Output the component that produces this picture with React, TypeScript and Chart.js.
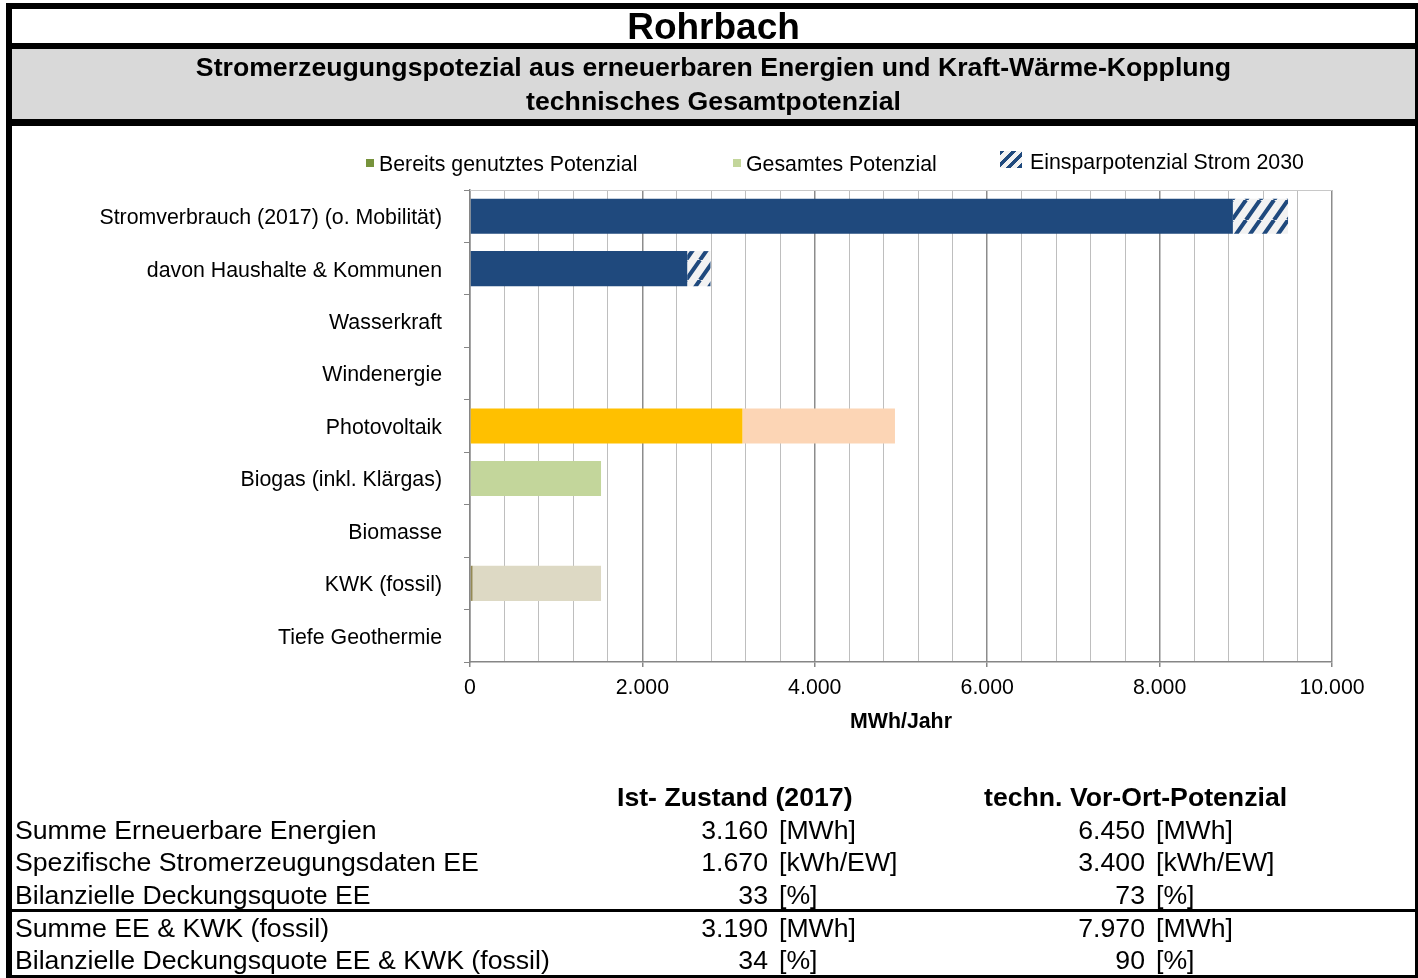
import React, { useEffect, useRef } from "react";
import { Chart, registerables } from "chart.js";

Chart.register(...registerables);

// ---------- data ----------
const categories = [
  "Stromverbrauch (2017) (o. Mobilität)",
  "davon Haushalte & Kommunen",
  "Wasserkraft",
  "Windenergie",
  "Photovoltaik",
  "Biogas (inkl. Klärgas)",
  "Biomasse",
  "KWK (fossil)",
  "Tiefe Geothermie",
];
// already used potential (for consumption rows: consumption 2030)
const genutzt = [8850, 2520, 0, 0, 3160, 0, 0, 30, 0];
// total technical potential
const gesamt = [0, 0, 0, 0, 4930, 1520, 0, 1520, 0];
// savings potential 2030
const einsparung = [640, 270, 0, 0, 0, 0, 0, 0, 0];

const xMax = 10000;
const xMajorStep = 2000;
const xMinorStep = 400;

const legendLabels = [
  "Bereits genutztes Potenzial",
  "Gesamtes Potenzial",
  "Einsparpotenzial Strom 2030",
];

const tableHeaders = ["Ist- Zustand (2017)", "techn. Vor-Ort-Potenzial"];
const tableLabels = [
  "Summe Erneuerbare Energien",
  "Spezifische Stromerzeugungsdaten EE",
  "Bilanzielle Deckungsquote EE",
  "Summe EE & KWK (fossil)",
  "Bilanzielle Deckungsquote EE & KWK (fossil)",
];
const istValues = ["3.160", "1.670", "33", "3.190", "34"];
const potValues = ["6.450", "3.400", "73", "7.970", "90"];
const units = ["[MWh]", "[kWh/EW]", "[%]", "[MWh]", "[%]"];

// ---------- styles ----------
const BLUE = "#1F497D";
const genutztColors = [BLUE, BLUE, "#FFC000", "#FFC000", "#FFC000", "#77933C", "#77933C", "#948A54", "#77933C"];
const gesamtColors = ["#C3D69B", "#C3D69B", "#C3D69B", "#C3D69B", "#FCD5B5", "#C3D69B", "#C3D69B", "#DDD9C4", "#C3D69B"];

const FONT = "'Liberation Sans', Arial, sans-serif";
const fmt = (v: number) => String(v).replace(/\B(?=(\d{3})+(?!\d))/g, ".");

function makeHatch(): CanvasPattern | string {
  const w = 14, h = 20;
  const c = document.createElement("canvas");
  c.width = w;
  c.height = h;
  const g = c.getContext("2d");
  if (!g) return BLUE;
  g.fillStyle = "#F2F2F2";
  g.fillRect(0, 0, w, h);
  g.strokeStyle = BLUE;
  g.lineWidth = 4;
  g.beginPath();
  for (const dx of [-w, 0, w]) {
    g.moveTo(dx, h);
    g.lineTo(dx + w, 0);
  }
  g.stroke();
  const p = g.createPattern(c, "repeat");
  return p || BLUE;
}

const topLine = {
  id: "topLine",
  beforeDatasetsDraw(chart: any) {
    const { ctx, chartArea } = chart;
    ctx.save();
    ctx.strokeStyle = "#C8C8C8";
    ctx.lineWidth = 1;
    ctx.beginPath();
    ctx.moveTo(chartArea.left, chartArea.top + 0.5);
    ctx.lineTo(chartArea.right, chartArea.top + 0.5);
    ctx.stroke();
    ctx.restore();
  },
};

function ChartCanvas() {
  const ref = useRef<HTMLCanvasElement | null>(null);
  useEffect(() => {
    if (!ref.current) return;
    const rest = gesamt.map((t, i) => Math.max(t - genutzt[i], 0));
    const hatch = makeHatch();
    const isMajor = (c: any) => c.tick && Math.round(c.tick.value) % xMajorStep === 0;
    const chart = new Chart(ref.current, {
      type: "bar",
      data: {
        labels: categories,
        datasets: [
          { label: legendLabels[0], data: genutzt, backgroundColor: genutztColors, borderWidth: 0 },
          { label: legendLabels[1], data: rest, backgroundColor: gesamtColors, borderWidth: 0 },
          { label: legendLabels[2], data: einsparung, backgroundColor: hatch as any, borderWidth: 0 },
        ],
      },
      options: {
        indexAxis: "y",
        responsive: false,
        animation: false,
        devicePixelRatio: 1,
        datasets: { bar: { barPercentage: 0.67, categoryPercentage: 1 } },
        layout: { padding: { top: 190, right: 86, bottom: 243, left: 0 } },
        plugins: { legend: { display: false }, tooltip: { enabled: false }, title: { display: false } },
        font: { family: FONT },
        scales: {
          y: {
            type: "category",
            stacked: true,
            grid: { drawOnChartArea: false, drawTicks: true, tickLength: 6, color: "#868686", offset: true },
            border: { display: true, color: "#868686", width: 1.5 },
            ticks: { color: "#000", font: { family: FONT, size: 21.33 }, padding: 22, autoSkip: false, labelOffset: 2 },
            afterFit: (s: any) => { s.width = 470; },
          },
          x: {
            type: "linear",
            stacked: true,
            min: 0,
            max: xMax,
            grid: {
              color: (c: any) => (isMajor(c) ? "#8C8C8C" : "#BEBEBE"),
              lineWidth: (c: any) => (isMajor(c) ? 1.5 : 1),
              tickColor: (c: any) => (isMajor(c) ? "#868686" : "rgba(0,0,0,0)"),
              tickLength: 5,
              drawTicks: true,
            },
            border: { display: true, color: "#868686", width: 1.5 },
            ticks: {
              stepSize: xMinorStep,
              autoSkip: false,
              maxRotation: 0,
              color: "#000",
              padding: 8,
              font: { family: FONT, size: 21.33 },
              callback: (v: any) => (Math.round(Number(v)) % xMajorStep === 0 ? fmt(Number(v)) : ""),
            },
            title: {
              display: true,
              text: "MWh/Jahr",
              color: "#000",
              font: { family: FONT, size: 21.33, weight: "bold" },
              padding: { top: 0, bottom: 0 },
            },
            afterFit: (s: any) => { s.height = 73; },
          },
        },
      } as any,
      plugins: [topLine],
    });
    return () => chart.destroy();
  }, []);
  return (
    <canvas
      ref={ref}
      width={1418}
      height={978}
      style={{ position: "absolute", left: 0, top: 0, width: 1418, height: 978 }}
    />
  );
}

const abs = (s: React.CSSProperties): React.CSSProperties => ({ position: "absolute", ...s });

function Txt(props: { x?: number; right?: number; cy: number; size: number; bold?: boolean; children: React.ReactNode }) {
  const lh = Math.round(props.size * 1.25);
  const st: React.CSSProperties = {
    position: "absolute",
    top: props.cy - lh / 2,
    lineHeight: lh + "px",
    fontSize: props.size,
    fontWeight: props.bold ? "bold" : "normal",
    whiteSpace: "nowrap",
  };
  if (props.right !== undefined) {
    st.left = 0;
    st.width = props.right;
    st.textAlign = "right";
  } else {
    st.left = props.x;
  }
  return <div style={st}>{props.children}</div>;
}

export default function App() {
  const rowsY = [830, 862.5, 895, 928, 960.5];
  return (
    <div
      style={{
        position: "absolute",
        left: 0,
        top: 0,
        width: 1418,
        height: 978,
        background: "#fff",
        overflow: "hidden",
        fontFamily: FONT,
        color: "#000",
      }}
    >
      <ChartCanvas />
      {/* header bands */}
      <div style={abs({ left: 12, top: 49, width: 1403, height: 70, background: "#D9D9D9" })} />
      <div style={abs({ left: 6, top: 3, width: 1412, height: 6, background: "#000" })} />
      <div style={abs({ left: 6, top: 43, width: 1412, height: 6, background: "#000" })} />
      <div style={abs({ left: 6, top: 119, width: 1412, height: 7, background: "#000" })} />
      <div style={abs({ left: 6, top: 3, width: 6, height: 975, background: "#000" })} />
      <div style={abs({ left: 1415, top: 3, width: 3, height: 975, background: "#000" })} />
      <div style={abs({ left: 6, top: 975, width: 1412, height: 3, background: "#000" })} />
      <div style={abs({ left: 12, top: 909, width: 1403, height: 3, background: "#000" })} />

      {/* titles */}
      <div style={abs({ left: 12, top: 10, width: 1403, height: 34, lineHeight: "34px", textAlign: "center", fontSize: 37, fontWeight: "bold", whiteSpace: "nowrap" })}>
        Rohrbach
      </div>
      <div style={abs({ left: 12, top: 50, width: 1403, lineHeight: "34px", textAlign: "center", fontSize: 26.67, fontWeight: "bold", whiteSpace: "nowrap" })}>
        Stromerzeugungspotezial aus erneuerbaren Energien und Kraft-Wärme-Kopplung
        <br />
        technisches Gesamtpotenzial
      </div>

      {/* legend */}
      <div style={abs({ left: 366, top: 159, width: 8, height: 8, background: "#77933C" })} />
      <Txt x={379} cy={164} size={21.33}>{legendLabels[0]}</Txt>
      <div style={abs({ left: 733, top: 159, width: 8, height: 8, background: "#C3D69B" })} />
      <Txt x={746} cy={164} size={21.33}>{legendLabels[1]}</Txt>
      <div
        style={abs({
          left: 1000,
          top: 151,
          width: 22,
          height: 17,
          background: `repeating-linear-gradient(135deg, ${BLUE} 0px, ${BLUE} 3.5px, #F2F2F2 3.5px, #F2F2F2 8px)`,
        })}
      />
      <Txt x={1030} cy={162} size={21.33}>{legendLabels[2]}</Txt>

      {/* table */}
      <Txt x={617} cy={797} size={26.67} bold>{tableHeaders[0]}</Txt>
      <Txt x={984} cy={797} size={26.67} bold>{tableHeaders[1]}</Txt>
      {tableLabels.map((l, i) => (
        <React.Fragment key={i}>
          <Txt x={15} cy={rowsY[i]} size={26.67}>{l}</Txt>
          <Txt right={768} cy={rowsY[i]} size={26.67}>{istValues[i]}</Txt>
          <Txt x={779} cy={rowsY[i]} size={26.67}>{units[i]}</Txt>
          <Txt right={1145} cy={rowsY[i]} size={26.67}>{potValues[i]}</Txt>
          <Txt x={1156} cy={rowsY[i]} size={26.67}>{units[i]}</Txt>
        </React.Fragment>
      ))}
    </div>
  );
}
